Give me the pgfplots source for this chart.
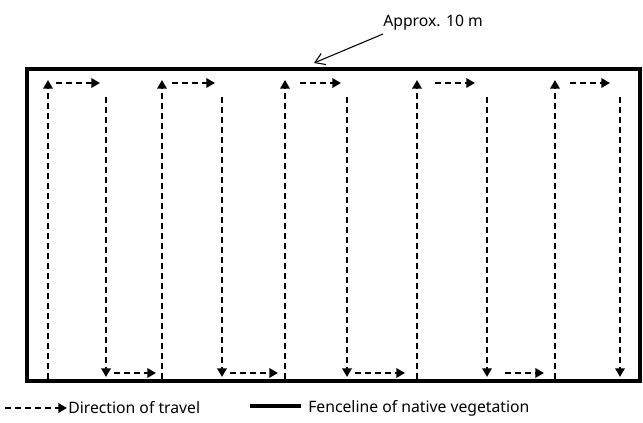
\documentclass[border=0pt]{standalone}
\usepackage{pgfplots}
\pgfplotsset{compat=1.18}
\usepackage{fontspec}
\setmainfont{Noto Sans}
\usetikzlibrary{arrows.meta}
\tikzset{lbl/.style={anchor=west, font=\fontsize{11.8}{14}\selectfont, inner sep=0pt}}
\begin{document}
\begin{tikzpicture}
\begin{axis}[
    scale only axis,
    width=482.25pt, height=317.25pt,
    xmin=0, xmax=643, ymin=0, ymax=423,
    y dir=reverse,
    hide axis, clip=false,
    every axis plot/.append style={no markers},
    travel/.style={black, line width=1.8pt, dash pattern=on 4.5pt off 3pt,
        -{Triangle[length=6.5pt,width=7pt]}},
    fence/.style={black, line width=3pt, line cap=rect},
]
% fenceline of native vegetation
\addplot[fence] coordinates {(27,69.5) (640,69.5) (640,381) (27,381) (27,69.5)};

% up runs
\addplot[travel] coordinates {(48,379) (48,80)};
\addplot[travel] coordinates {(162,379) (162,80)};
\addplot[travel] coordinates {(285,379) (285,80)};
\addplot[travel] coordinates {(417,379) (417,80)};
\addplot[travel] coordinates {(555,379) (555,80)};

% down runs
\addplot[travel] coordinates {(106,97) (106,377)};
\addplot[travel] coordinates {(222,97) (222,377)};
\addplot[travel] coordinates {(347,97) (347,377)};
\addplot[travel] coordinates {(487,97) (487,377)};
\addplot[travel] coordinates {(620,97) (620,377)};

% top crossings
\addplot[travel] coordinates {(56,83) (100,83)};
\addplot[travel] coordinates {(172,83) (215,83)};
\addplot[travel] coordinates {(300,83) (341,83)};
\addplot[travel] coordinates {(435,83) (475,83)};
\addplot[travel] coordinates {(570,83) (610,83)};

% bottom crossings
\addplot[travel] coordinates {(114,373) (156,373)};
\addplot[travel] coordinates {(230,373) (278,373)};
\addplot[travel] coordinates {(355,373) (405,373)};
\addplot[travel] coordinates {(505,373) (544,373)};

% annotation
\addplot[black, line width=0.8pt, -{Straight Barb[length=7pt,width=9pt]}] coordinates {(383,34) (314,63)};
\node[lbl] at (axis cs:383,23) {Approx. 10 m};

% legend
\addplot[travel] coordinates {(5,408) (67,408)};
\node[lbl] at (axis cs:68,408) {Direction of travel};
\addplot[black, line width=3pt] coordinates {(250,406) (301,406)};
\node[lbl] at (axis cs:308,408) {Fenceline of native vegetation};

% page extent
\addplot[draw=none] coordinates {(0,0) (643,423)};
\end{axis}
\end{tikzpicture}
\end{document}
